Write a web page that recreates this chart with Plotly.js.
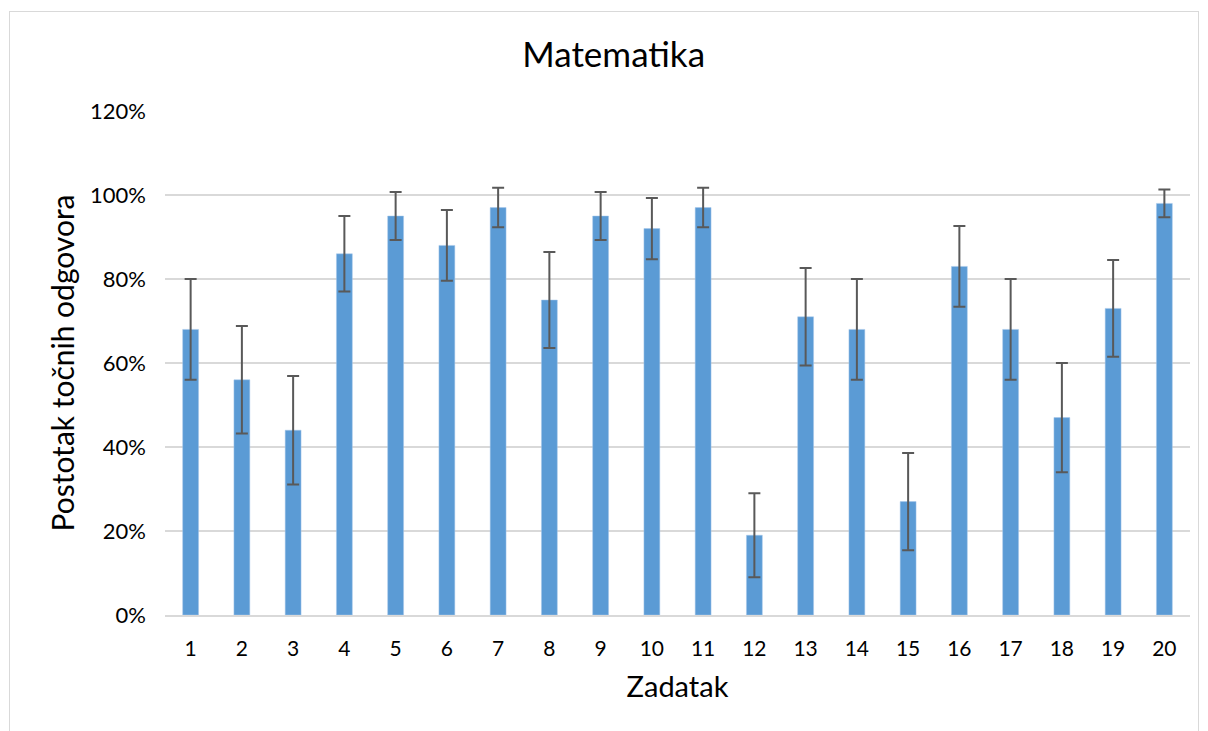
<!DOCTYPE html>
<html>
<head>
<meta charset="utf-8">
<script src="https://cdn.plot.ly/plotly-3.0.1.min.js"></script>
<style>
  html, body { margin: 0; padding: 0; background: #ffffff; }
  #chart { width: 1208px; height: 731px; }
  #frame { position: absolute; left: 9px; top: 11px; width: 1190px; height: 730px;
           border: 1px solid #d9d9d9; box-sizing: border-box; pointer-events: none; }
</style>
</head>
<body>
<div id="chart"></div>
<div id="frame"></div>
<script>
const categories = ["1","2","3","4","5","6","7","8","9","10","11","12","13","14","15","16","17","18","19","20"];
const values = [0.68, 0.56, 0.44, 0.86, 0.95, 0.88, 0.97, 0.75, 0.95, 0.92, 0.97, 0.19, 0.71, 0.68, 0.27, 0.83, 0.68, 0.47, 0.73, 0.98];
const errors = [0.12, 0.128, 0.129, 0.09, 0.057, 0.084, 0.047, 0.114, 0.057, 0.073, 0.047, 0.10, 0.116, 0.12, 0.116, 0.096, 0.12, 0.13, 0.115, 0.033];
const yTicks = [0, 0.2, 0.4, 0.6, 0.8, 1.0, 1.2];

const font = "Lato, 'Open Sans', sans-serif";

const trace = {
  type: "bar",
  x: categories,
  y: values,
  marker: { color: "#5b9bd5", line: { color: "#a9c8ea", width: 0.5 } },
  error_y: { type: "data", array: errors, visible: true, color: "#595959", thickness: 2, width: 6 },
  hoverinfo: "x+y"
};

const layout = {
  width: 1208, height: 731,
  margin: { l: 165, r: 18, t: 111, b: 116 },
  paper_bgcolor: "#ffffff", plot_bgcolor: "#ffffff",
  bargap: 0.69,
  showlegend: false,
  title: { text: "Matematika", font: { family: font, size: 35, color: "#000000" }, x: 0.508, xanchor: "center", y: 0.925, yanchor: "middle" },
  xaxis: {
    type: "category",
    title: { text: "Zadatak", font: { family: font, size: 29, color: "#000000" }, standoff: 17 },
    tickfont: { family: font, size: 21, color: "#000000" },
    ticklabelstandoff: 14,
    showgrid: false, zeroline: false,
    showline: true, linecolor: "#d9d9d9", linewidth: 2,
    ticks: "", ticklen: 0
  },
  yaxis: {
    range: [0, 1.2],
    tickvals: yTicks,
    tickformat: ".0%",
    title: { text: "Postotak točnih odgovora", font: { family: font, size: 30, color: "#000000" }, standoff: 6 },
    tickfont: { family: font, size: 22, color: "#000000" },
    ticklabelstandoff: 18,
    showgrid: true, gridcolor: "#d9d9d9", gridwidth: 1.5,
    zeroline: false, showline: false, ticks: ""
  }
};

Plotly.newPlot("chart", [trace], layout, { displayModeBar: false, staticPlot: true });
</script>
</body>
</html>
